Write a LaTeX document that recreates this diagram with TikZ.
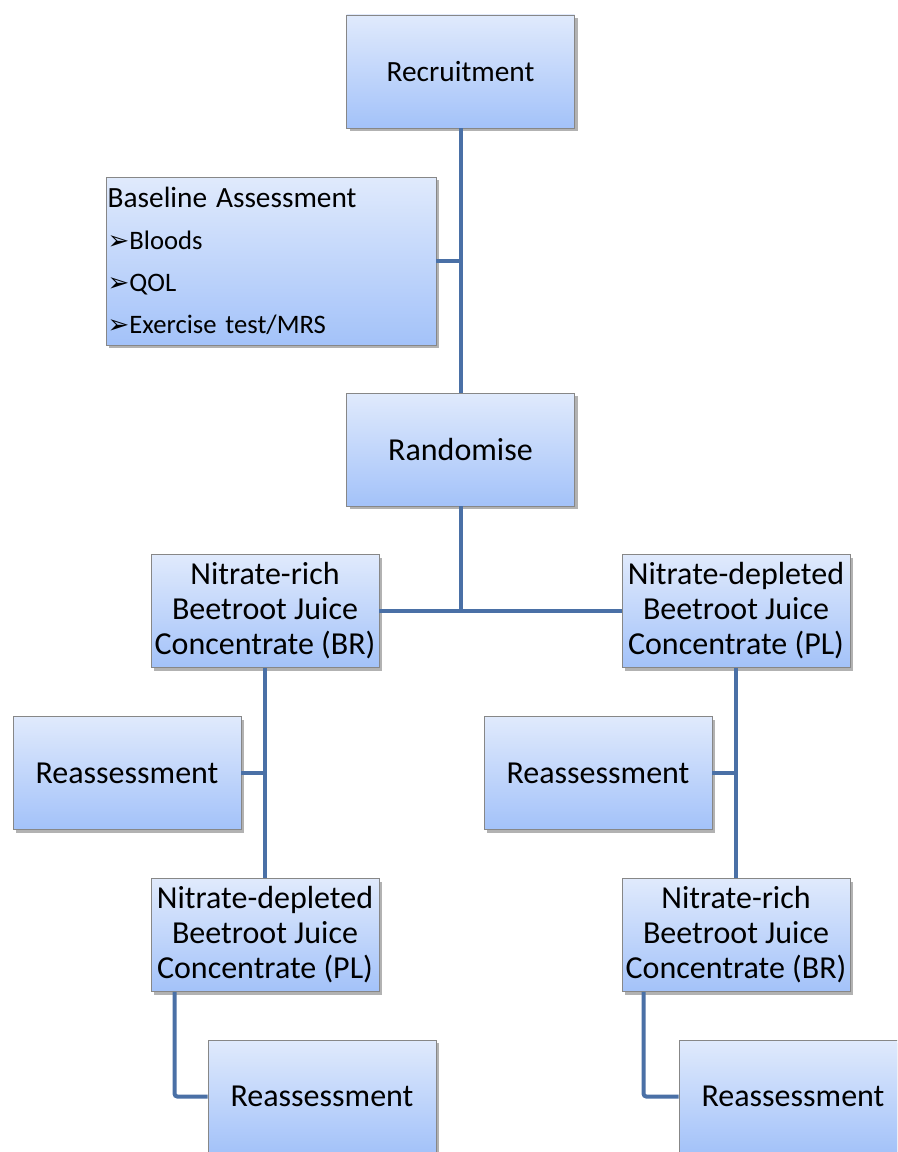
\documentclass[tikz,border=0pt]{standalone}
\usepackage{fontspec}
\setmainfont{Carlito}
\newfontfamily\arrowfont{DejaVu Sans}
\usetikzlibrary{positioning,shadows,calc}
\definecolor{boxTop}{RGB}{224,234,252}
\definecolor{boxBot}{RGB}{163,194,249}
\definecolor{boxEdge}{RGB}{135,135,135}
\definecolor{linkBlue}{RGB}{74,112,166}
\newcommand{\bul}{{\arrowfont\fontsize{19.5}{31.5}\selectfont ➢}}

\begin{document}
\begin{tikzpicture}[
  x=0.75pt, y=-0.75pt,
  font=\fontsize{24}{26.25}\selectfont,
  box/.style={
    draw=boxEdge, line width=0.6pt, top color=boxTop, bottom color=boxBot,
    minimum width=171pt, minimum height=84.75pt, inner sep=1pt, align=center,
    drop shadow={shadow xshift=2.5pt, shadow yshift=-2.5pt, opacity=0.3, fill=black}
  },
  link/.style={draw=linkBlue, line width=3pt}
]
% Fixed page (bottom boxes run off the lower edge)
\fill[white] (0,0) rectangle (897,1152);
\useasboundingbox (0,0) rectangle (897,1152);
\clip (0,0) rectangle (897,1152);

% Top of the trial
\node[box, font=\fontsize{22}{26.25}\selectfont] (rec) at (460.5,71.5) {Recruitment};
\node[box, minimum width=247.5pt, minimum height=126pt, text width=245pt,
      inner xsep=1.25pt, align=left, font=\fontsize{20}{31.5}\selectfont] (base) at (271,261)
  {{\fontsize{22}{31.5}\selectfont Baseline Assessment}\\
   \bul Bloods\\
   \bul QOL\\
   \bul Exercise test/MRS};
\node[box] (rand) at (460.5,449.5) {Randomise};

% First period
\node[box] (brA) at (265,611) {Nitrate-rich\\Beetroot Juice\\Concentrate (BR)};
\node[box] (plA) at (736,611) {Nitrate-depleted\\Beetroot Juice\\Concentrate (PL)};
\node[box] (reA) at (127,773) {Reassessment};
\node[box] (reB) at (598,773) {Reassessment};

% Crossover
\node[box] (plB) at (265,935) {Nitrate-depleted\\Beetroot Juice\\Concentrate (PL)};
\node[box] (brB) at (736,935) {Nitrate-rich\\Beetroot Juice\\Concentrate (BR)};
\node[box] (reC) at (322,1096.5) {Reassessment};
\node[box] (reD) at (793,1096.5) {Reassessment};

\draw[link] (rec) -- (rand);
\draw[link] (base.east) -- (base.east -| rec.south);
\draw[link] (rand) -- (rand |- brA.east);
\draw[link] (brA) -- (plA);
\foreach \a/\b in {brA/plB,plA/brB}
  \draw[link] (\a) -- (\b);
\draw[link] (reA) -- (reA -| brA.south);
\draw[link] (reB) -- (reB -| plA.south);
\draw[link, rounded corners=2pt] ([xshift=18pt]plB.south west) |- (reC.west);
\draw[link, rounded corners=2pt] ([xshift=16.5pt]brB.south west) |- (reD.west);

\end{tikzpicture}
\end{document}
